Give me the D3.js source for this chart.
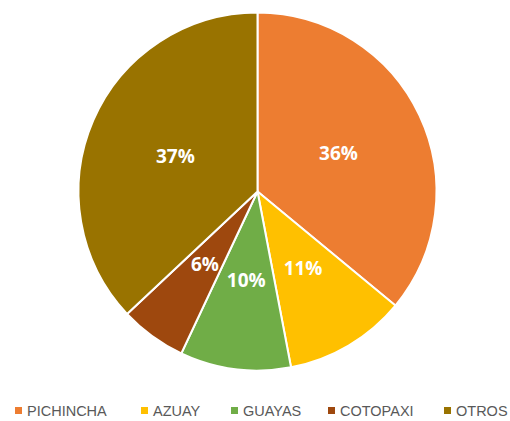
<!DOCTYPE html>
<html lang="en">
<head>
<meta charset="UTF-8">
<title>Pie</title>
<script src="https://cdn.jsdelivr.net/npm/d3@7"></script>
<style>
  body { margin: 0; background: #fff; }
</style>
</head>
<body>
<svg id="chart" width="510" height="421"></svg>
<script>
const categories = ['PICHINCHA', 'AZUAY', 'GUAYAS', 'COTOPAXI', 'OTROS']
const values = [36, 11, 10, 6, 37]
const colors = ['#ED7D31', '#FFC000', '#70AD47', '#9E480E', '#997300']

const cx = 257.5, cy = 191.5, radius = 179

const svg = d3.select('#chart')
const g = svg.append('g').attr('transform', `translate(${cx},${cy})`)

const pie = d3.pie().sort(null).value(d => d)
const arcs = pie(values)
const arc = d3.arc().innerRadius(0).outerRadius(radius)
const labelArc = d3.arc().innerRadius(radius * 0.5).outerRadius(radius * 0.5)

g.selectAll('path')
  .data(arcs)
  .join('path')
  .attr('d', arc)
  .attr('fill', (d, i) => colors[i])
  .attr('stroke', '#fff')
  .attr('stroke-width', 2)

g.selectAll('text')
  .data(arcs)
  .join('text')
  .attr('transform', d => `translate(${labelArc.centroid(d)})`)
  .attr('text-anchor', 'middle')
  .attr('dy', '0.36em')
  .attr('fill', '#fff')
  .attr('font-family', 'Open Sans, sans-serif')
  .attr('font-weight', 'bold')
  .attr('font-size', 19)
  .text(d => d.data + '%')

// legend
const legendX = [15, 141, 231, 328, 444]
const legend = svg.append('g')
  .selectAll('g')
  .data(categories)
  .join('g')
  .attr('transform', (d, i) => `translate(${legendX[i]},411)`)

legend.append('rect')
  .attr('x', 0).attr('y', -4)
  .attr('width', 7).attr('height', 7)
  .attr('fill', (d, i) => colors[i])

legend.append('text')
  .attr('x', 12)
  .attr('dy', '0.36em')
  .attr('fill', '#595959')
  .attr('font-family', 'Liberation Sans, sans-serif')
  .attr('font-size', 14.5)
  .text(d => d)
</script>
</body>
</html>
